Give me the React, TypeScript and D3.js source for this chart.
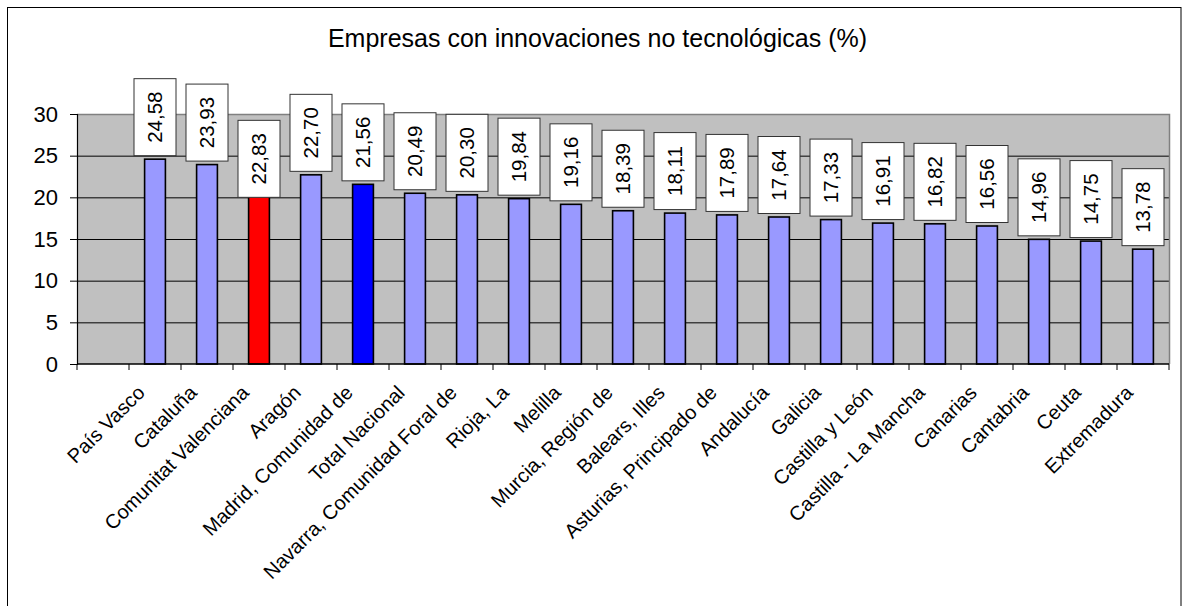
import React, { useEffect, useRef } from "react";
import * as d3 from "d3";

// Datos del gráfico
const title = "Empresas con innovaciones no tecnológicas (%)";

const categories = [
  "",
  "País Vasco",
  "Cataluña",
  "Comunitat Valenciana",
  "Aragón",
  "Madrid, Comunidad de",
  "Total Nacional",
  "Navarra, Comunidad Foral de",
  "Rioja, La",
  "Melilla",
  "Murcia, Región de",
  "Balears, Illes",
  "Asturias, Principado de",
  "Andalucía",
  "Galicia",
  "Castilla y León",
  "Castilla - La Mancha",
  "Canarias",
  "Cantabria",
  "Ceuta",
  "Extremadura",
];

const values = [
  null, 24.58, 23.93, 22.83, 22.7, 21.56, 20.49, 20.3, 19.84, 19.16, 18.39,
  18.11, 17.89, 17.64, 17.33, 16.91, 16.82, 16.56, 14.96, 14.75, 13.78,
];

const yTicks = [0, 5, 10, 15, 20, 25, 30];

const redCategory = "Comunitat Valenciana";
const blueCategory = "Madrid, Comunidad de";
// la etiqueta de Valenciana está bajada sobre la barra
const loweredLabelCategory = "Comunitat Valenciana";
const loweredLabelBase = 20;

const FONT = "Arial, 'Liberation Sans', sans-serif";

export function InnovationChart({ width = 1187, height = 606 }) {
  const svgRef = useRef<SVGSVGElement>(null);

  useEffect(() => {
    const svg = d3.select(svgRef.current);
    svg.selectAll("*").remove();

    const plot = { left: 77, right: 1169, top: 114, bottom: 364 };

    const x = d3
      .scaleBand<string>()
      .domain(categories)
      .range([plot.left, plot.right])
      .padding(0);

    const y = d3.scaleLinear().domain([0, 30]).range([plot.bottom, plot.top]);

    svg.attr("width", width).attr("height", height);

    svg
      .append("rect")
      .attr("width", width)
      .attr("height", height)
      .attr("fill", "#fff");

    // Marco exterior
    svg
      .append("rect")
      .attr("x", 7.5)
      .attr("y", 7.5)
      .attr("width", 1173.5)
      .attr("height", 640)
      .attr("fill", "none")
      .attr("stroke", "#000")
      .attr("stroke-width", 1);

    // Título
    svg
      .append("text")
      .attr("x", 597.5)
      .attr("y", 47)
      .attr("text-anchor", "middle")
      .attr("font-family", FONT)
      .attr("font-size", "25px")
      .attr("fill", "#000")
      .text(title);

    // Fondo del área de trazado
    svg
      .append("rect")
      .attr("x", plot.left)
      .attr("y", plot.top)
      .attr("width", plot.right - plot.left)
      .attr("height", plot.bottom - plot.top)
      .attr("fill", "#C0C0C0");

    // Líneas de cuadrícula
    svg
      .append("g")
      .selectAll("line")
      .data(yTicks.filter((t) => t > 0 && t < 30))
      .enter()
      .append("line")
      .attr("x1", plot.left)
      .attr("x2", plot.right)
      .attr("y1", (d) => y(d) + 0.5)
      .attr("y2", (d) => y(d) + 0.5)
      .attr("stroke", "#000")
      .attr("stroke-width", 1);

    // Borde del área de trazado
    svg
      .append("path")
      .attr(
        "d",
        `M${plot.left},${plot.top + 0.5}H${plot.right + 0.5}V${plot.bottom}`
      )
      .attr("fill", "none")
      .attr("stroke", "#808080")
      .attr("stroke-width", 1.5);

    // Barras
    const barW = x.bandwidth() * 0.4;
    const data = categories
      .map((c, i) => ({ cat: c, value: values[i] }))
      .filter((d) => d.value !== null) as { cat: string; value: number }[];

    svg
      .append("g")
      .selectAll("rect")
      .data(data)
      .enter()
      .append("rect")
      .attr("x", (d) => x(d.cat)! + x.bandwidth() / 2 - barW / 2)
      .attr("y", (d) => y(d.value))
      .attr("width", barW)
      .attr("height", (d) => y(0) - y(d.value))
      .attr("fill", (d) =>
        d.cat === redCategory
          ? "#FF0000"
          : d.cat === blueCategory
          ? "#0000FF"
          : "#9999FF"
      )
      .attr("stroke", "#000")
      .attr("stroke-width", 1.6);

    // Eje Y
    const yAxis = d3
      .axisLeft(y)
      .tickValues(yTicks)
      .tickSize(7)
      .tickPadding(12)
      .tickFormat((d) => String(d));

    const gy = svg
      .append("g")
      .attr("transform", `translate(${plot.left},0)`)
      .call(yAxis);
    gy.select(".domain")
      .attr("stroke", "#000")
      .attr("stroke-width", 1.2);
    gy.selectAll(".tick line").attr("stroke", "#000");
    gy.selectAll("text")
      .attr("font-family", FONT)
      .attr("font-size", "22px")
      .attr("fill", "#000");

    // Eje X: marcas entre categorías
    const bounds = categories.map((c) => x(c)!).concat([plot.right]);
    svg
      .append("g")
      .selectAll("line")
      .data(bounds)
      .enter()
      .append("line")
      .attr("x1", (d) => d)
      .attr("x2", (d) => d)
      .attr("y1", plot.bottom)
      .attr("y2", plot.bottom + 6)
      .attr("stroke", "#000");

    svg
      .append("line")
      .attr("x1", plot.left)
      .attr("x2", plot.right)
      .attr("y1", plot.bottom)
      .attr("y2", plot.bottom)
      .attr("stroke", "#000")
      .attr("stroke-width", 1.5);

    // Etiquetas de categoría (rotadas 45°)
    svg
      .append("g")
      .selectAll("text")
      .data(categories.filter((c) => c !== ""))
      .enter()
      .append("text")
      .attr("text-anchor", "end")
      .attr("font-family", FONT)
      .attr("font-size", "20px")
      .attr("fill", "#000")
      .attr("transform", (d) => {
        const cx = x(d)! + x.bandwidth() / 2 - 9;
        return `translate(${cx},394) rotate(-45)`;
      })
      .text((d) => d);

    // Etiquetas de datos en cajas
    const boxW = 42;
    const boxH = 77;
    const labels = svg
      .append("g")
      .selectAll("g")
      .data(data)
      .enter()
      .append("g")
      .attr("transform", (d) => {
        const cx = x(d.cat)! + x.bandwidth() / 2;
        const bottom =
          d.cat === loweredLabelCategory
            ? y(loweredLabelBase)
            : y(d.value) - 3.5;
        return `translate(${cx},${bottom - boxH / 2})`;
      });

    labels
      .append("rect")
      .attr("x", -boxW / 2)
      .attr("y", -boxH / 2)
      .attr("width", boxW)
      .attr("height", boxH)
      .attr("fill", "#fff")
      .attr("stroke", "#333")
      .attr("stroke-width", 1);

    labels
      .append("text")
      .attr("transform", "rotate(-90)")
      .attr("text-anchor", "middle")
      .attr("dy", "0.36em")
      .attr("font-family", FONT)
      .attr("font-size", "20.5px")
      .attr("fill", "#000")
      .text((d) => d.value.toFixed(2).replace(".", ","));
  }, [width, height]);

  return (
    <svg
      ref={svgRef}
      style={{ position: "absolute", left: 0, top: 0, display: "block" }}
    />
  );
}

export default function App() {
  return <InnovationChart />;
}
